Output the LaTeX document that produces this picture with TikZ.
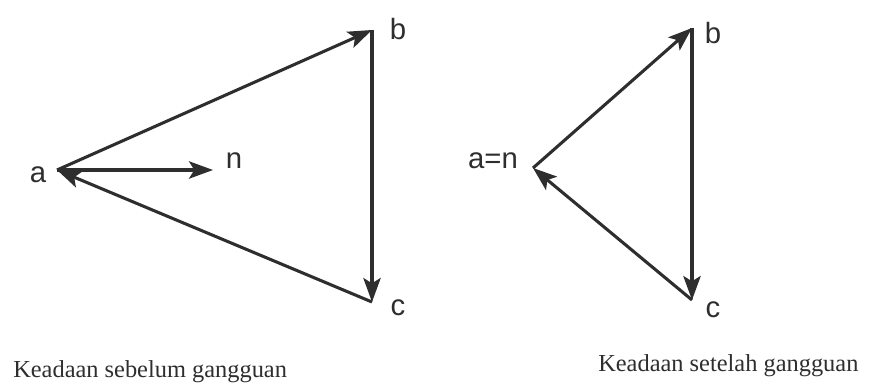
\documentclass[tikz,border=0pt]{standalone}
\usepackage{fontspec}
\setmainfont{Liberation Serif}
\newfontfamily\lblfont{Liberation Sans}
\usetikzlibrary{arrows.meta}
\definecolor{ink}{HTML}{2E2E2E}
\begin{document}
\begin{tikzpicture}[x=0.75pt,y=-0.75pt,
  vec/.style={draw=ink,line width=2.3pt,-{Stealth[length=18pt,width=13pt,inset=4pt]}},
  lbl/.style={font=\lblfont\fontsize{22}{24}\selectfont,text=ink,inner sep=0pt},
  captxt/.style={font=\fontsize{18.3}{20}\selectfont,text=ink,inner sep=0pt,anchor=west}]
\useasboundingbox (0,0) rectangle (873,388);
% left
\coordinate (a) at (57,170);
\coordinate (b) at (372,30);
\coordinate (c) at (372,302);
\coordinate (n) at (213,170);
\draw[vec] (a) -- (b);
\draw[vec] (b) -- (c);
\draw[vec] (c) -- (a);
\draw[vec] (a) -- (n);
\node[lbl] (la) at (38,175) {a};
\node[lbl] (lb) at (398,29) {b};
\node[lbl] (lc) at (398,308) {c};
\node[lbl] (ln) at (234,161) {n};
% right
\coordinate (a2) at (533,168);
\coordinate (b2) at (692,28);
\coordinate (c2) at (692,300);
\draw[vec] (a2) -- (b2);
\draw[vec] (b2) -- (c2);
\draw[vec] (c2) -- (a2);
\node[lbl] (la2) at (493,161) {a=n};
\node[lbl] (lb2) at (713,33) {b};
\node[lbl] (lc2) at (713,310) {c};
% captions
\node[captxt] (cap1) at (13,372) {Keadaan sebelum gangguan};
\node[captxt] (cap2) at (598,366) {Keadaan setelah gangguan};
\end{tikzpicture}
\end{document}
